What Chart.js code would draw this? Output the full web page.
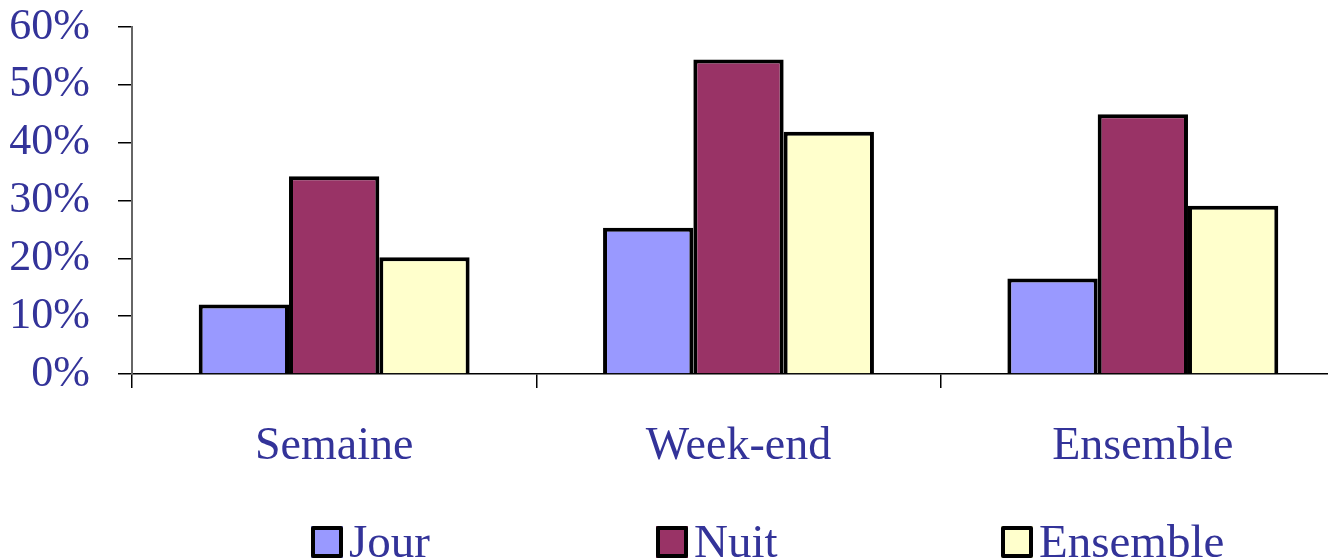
<!DOCTYPE html>
<html>
<head>
<meta charset="utf-8">
<script src="https://cdn.jsdelivr.net/npm/chart.js@4.4.1/dist/chart.umd.min.js"></script>
<style>
    body { margin: 0; overflow: hidden; background: #fff; }
    #chart { display: block; }
</style>
</head>
<body>
<canvas id="chart" width="1346" height="559"></canvas>
<script>
// Data
const categories = ['Semaine', 'Week-end', 'Ensemble'];
const jour = [12, 25.3, 16.5];
const nuit = [34.2, 54.4, 44.9];
const ensemble = [20.2, 41.9, 29.1];
const yTicks = [0, 10, 20, 30, 40, 50, 60];

const textColor = '#333399';
const fontFamily = '"Liberation Serif", "Times New Roman", serif';

// Legend drawn on the canvas, evenly spaced like the original
const legendPlugin = {
    id: 'bottomLegend',
    afterDraw(chart) {
        const ctx = chart.ctx;
        const startX = 311;
        const step = 345;
        const boxSize = 32;
        const y = 526;
        ctx.save();
        ctx.font = '47px ' + fontFamily;
        ctx.textBaseline = 'alphabetic';
        chart.data.datasets.forEach((ds, i) => {
            const x = startX + i * step;
            ctx.fillStyle = ds.backgroundColor;
            ctx.fillRect(x, y, boxSize, boxSize);
            ctx.lineWidth = 4;
            ctx.lineJoin = 'round';
            ctx.strokeStyle = '#000';
            ctx.strokeRect(x + 2, y + 2, boxSize - 4, boxSize - 4);
            ctx.fillStyle = textColor;
            ctx.fillText(ds.label, x + boxSize + 6, y + boxSize - 1);
        });
        ctx.restore();
    }
};

const ctx = document.getElementById('chart').getContext('2d');
const chart = new Chart(ctx, {
    type: 'bar',
    data: {
        labels: categories,
        datasets: [
            { label: 'Jour', data: jour, backgroundColor: '#9999FF' },
            { label: 'Nuit', data: nuit, backgroundColor: '#993366' },
            { label: 'Ensemble', data: ensemble, backgroundColor: '#FFFFCC' }
        ].map(ds => Object.assign(ds, { borderColor: '#000', borderWidth: 4 }))
    },
    options: {
        responsive: false,
        animation: false,
        layout: { padding: { top: 27, right: 1, left: 0, bottom: 0 } },
        datasets: {
            bar: { categoryPercentage: 0.67, barPercentage: 1 }
        },
        plugins: {
            legend: { display: false },
            tooltip: { enabled: false }
        },
        scales: {
            x: {
                grid: {
                    offset: true,
                    drawOnChartArea: false,
                    drawTicks: true,
                    tickLength: 14,
                    color: '#000',
                    lineWidth: 1.5
                },
                border: { color: '#000', width: 1.5 },
                ticks: {
                    color: textColor,
                    padding: 31,
                    font: { family: fontFamily, size: 46 }
                },
                afterFit(scale) { scale.height = 185; }
            },
            y: {
                min: 0,
                max: 60,
                afterBuildTicks(scale) {
                    scale.ticks = yTicks.map(v => ({ value: v }));
                },
                grid: {
                    drawOnChartArea: false,
                    drawTicks: true,
                    tickLength: 14,
                    color: '#000',
                    lineWidth: 1.5
                },
                border: { color: '#666', width: 2 },
                ticks: {
                    autoSkip: false,
                    color: textColor,
                    padding: 28,
                    font: { family: fontFamily, size: 44 },
                    callback: v => v + '%'
                },
                afterFit(scale) {
                    scale.width = 132;
                    scale.paddingTop = 0;
                    scale.paddingBottom = 0;
                }
            }
        }
    },
    plugins: [legendPlugin]
});
</script>
</body>
</html>
